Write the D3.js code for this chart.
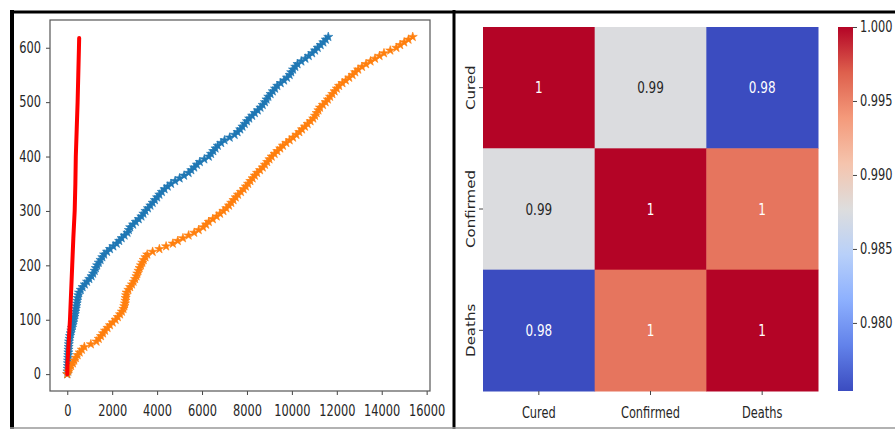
<!DOCTYPE html>
<html>
<head>
<meta charset="utf-8">
<script src="https://cdn.jsdelivr.net/npm/d3@7"></script>
<style>
  body { margin: 0; background: #fff; }
  text { font-family: 'DejaVu Sans', sans-serif; fill: #262626; }
</style>
</head>
<body>
<div id="chart"></div>
<script>
let width = 895, height = 429

// row index (y) and the cumulative counts
let rowIndex = [0, 5, 10, 15, 20, 25, 30, 35, 40, 45, 50, 55, 60, 65, 70, 75, 80, 85, 90, 95,
  100, 105, 110, 115, 120, 125, 130, 135, 140, 145, 150, 155, 160, 165, 170, 175, 180, 185, 190, 195,
  200, 205, 210, 215, 220, 225, 230, 235, 240, 245, 250, 255, 260, 265, 270, 275, 280, 285, 290, 295,
  300, 305, 310, 315, 320, 325, 330, 335, 340, 345, 350, 355, 360, 365, 370, 375, 380, 385, 390, 395,
  400, 405, 410, 415, 420, 425, 430, 435, 440, 445, 450, 455, 460, 465, 470, 475, 480, 485, 490, 495,
  500, 505, 510, 515, 520, 525, 530, 535, 540, 545, 550, 555, 560, 565, 570, 575, 580, 585, 590, 595,
  600, 605, 610, 615, 620]

let curedX = [0, 10, 20, 25, 30, 35, 40, 45, 50, 55, 60, 70, 80, 100, 120, 150, 180, 210, 240, 265,
  290, 315, 340, 360, 380, 400, 420, 440, 460, 490, 520, 600, 680, 780, 880, 980, 1080, 1150, 1220, 1270,
  1330, 1400, 1480, 1560, 1640, 1770, 1900, 2050, 2200, 2310, 2420, 2550, 2680, 2740, 2800, 2930, 3050, 3180, 3300, 3390,
  3480, 3590, 3700, 3800, 3900, 4000, 4100, 4210, 4330, 4470, 4620, 4800, 5000, 5200, 5400, 5520, 5650, 5770, 5900, 6100,
  6300, 6400, 6500, 6600, 6700, 6850, 7000, 7230, 7450, 7580, 7700, 7800, 7900, 8000, 8100, 8230, 8350, 8480, 8600, 8700,
  8800, 8870, 8950, 9050, 9150, 9250, 9350, 9500, 9650, 9780, 9900, 9970, 10050, 10150, 10250, 10420, 10600, 10750, 10900, 11030,
  11150, 11280, 11400, 11510, 11620]

let confirmedX = [0, 50, 100, 170, 250, 310, 380, 460, 550, 650, 760, 1050, 1300, 1400, 1500, 1590, 1680, 1790, 1900, 2020,
  2150, 2250, 2350, 2430, 2500, 2540, 2570, 2590, 2600, 2620, 2640, 2720, 2800, 2880, 2950, 3020, 3080, 3120, 3170, 3220,
  3280, 3340, 3400, 3480, 3560, 3800, 4100, 4400, 4700, 4920, 5150, 5400, 5650, 5850, 6050, 6180, 6300, 6480, 6650, 6800,
  6950, 7080, 7200, 7300, 7400, 7500, 7600, 7730, 7850, 7950, 8050, 8150, 8250, 8350, 8450, 8580, 8700, 8800, 8900, 9000,
  9100, 9230, 9350, 9480, 9600, 9750, 9900, 10050, 10200, 10330, 10450, 10580, 10700, 10830, 10950, 11030, 11100, 11180, 11250, 11380,
  11500, 11600, 11700, 11800, 11900, 12000, 12100, 12250, 12400, 12550, 12700, 12820, 12950, 13120, 13300, 13500, 13700, 13900, 14100, 14380,
  14650, 14820, 15000, 15190, 15380]

let deathsRow = [0, 20, 50, 100, 150, 200, 250, 300, 350, 400, 450, 500, 550, 600, 618]
let deathsX = [0, 10, 50, 120, 170, 220, 270, 330, 360, 380, 420, 460, 490, 520, 530]

let xTicks = [0, 2000, 4000, 6000, 8000, 10000, 12000, 14000, 16000]
let yTicks = [0, 100, 200, 300, 400, 500, 600]

// correlation matrix for the heatmap
let labels = ['Cured', 'Confirmed', 'Deaths']
let corr = [
  [1.0, 0.9875, 0.9754],
  [0.9875, 1.0, 0.9958],
  [0.9754, 0.9958, 1.0]
]
let barTicks = [0.980, 0.985, 0.990, 0.995, 1.000]

// matplotlib coolwarm stops
let coolwarmStops = ['#3b4cc0', '#6282ea', '#8db0fe', '#b8d0f9', '#dddddd', '#f5c4ad', '#f49a7b', '#de604d', '#b40426']

let squash = 0.76

let svg = d3.select('#chart').append('svg')
  .attr('width', width)
  .attr('height', height)

// frames
svg.append('line').attr('x1', 10).attr('x2', width).attr('y1', 12).attr('y2', 12)
  .attr('stroke', '#000').attr('stroke-width', 3)
svg.append('line').attr('x1', 12).attr('x2', 12).attr('y1', 10).attr('y2', height)
  .attr('stroke', '#000').attr('stroke-width', 4)
svg.append('line').attr('x1', 454).attr('x2', 454).attr('y1', 10).attr('y2', height)
  .attr('stroke', '#000').attr('stroke-width', 3)
svg.append('line').attr('x1', 10).attr('x2', width).attr('y1', 428).attr('y2', 428)
  .attr('stroke', '#999').attr('stroke-width', 1.5)

function squashText(sel) {
  sel.each(function() {
    let t = d3.select(this)
    let x = +t.attr('x') || 0
    t.attr('x', x / squash).attr('transform', `scale(${squash},1)`)
  })
}

// ---------- left plot ----------
let plotLeft = 50, plotRight = 430, plotTop = 20, plotBottom = 391

function withMargin(ext) {
  let span = ext[1] - ext[0]
  return [ext[0] - 0.05 * span, ext[1] + 0.05 * span]
}

let x = d3.scaleLinear()
  .domain(withMargin(d3.extent(curedX.concat(confirmedX, deathsX))))
  .range([plotLeft, plotRight])
let y = d3.scaleLinear()
  .domain(withMargin(d3.extent(rowIndex.concat(deathsRow))))
  .range([plotBottom, plotTop])

let xAxis = svg.append('g')
  .attr('transform', `translate(0,${plotBottom})`)
  .call(d3.axisBottom(x).tickValues(xTicks).tickSize(4).tickPadding(10).tickFormat(d3.format('d')))
let yAxis = svg.append('g')
  .attr('transform', `translate(${plotLeft},0)`)
  .call(d3.axisLeft(y).tickValues(yTicks).tickSize(4).tickPadding(5))

;[xAxis, yAxis].forEach(a => {
  a.select('.domain').remove()
  a.attr('font-size', 15).attr('font-family', 'DejaVu Sans')
  a.selectAll('line').attr('stroke', '#444')
  a.selectAll('text').attr('fill', '#262626').call(squashText)
})

svg.append('rect')
  .attr('x', plotLeft).attr('y', plotTop)
  .attr('width', plotRight - plotLeft).attr('height', plotBottom - plotTop)
  .attr('fill', 'none').attr('stroke', '#555').attr('stroke-width', 1.2)

let star = d3.symbol(d3.symbolStar, 26)

function drawStars(xs, color) {
  svg.append('g').selectAll('path')
    .data(xs.map((v, i) => [v, rowIndex[i]]))
    .join('path')
    .attr('d', star)
    .attr('transform', d => `translate(${x(d[0])},${y(d[1])})`)
    .attr('fill', color)
    .attr('stroke', color)
    .attr('stroke-width', 0.6)
}

drawStars(curedX, '#1f77b4')
drawStars(confirmedX, '#ff7f0e')

svg.append('path')
  .datum(deathsX.map((v, i) => [v, deathsRow[i]]))
  .attr('d', d3.line().x(d => x(d[0])).y(d => y(d[1])))
  .attr('fill', 'none')
  .attr('stroke', 'red')
  .attr('stroke-width', 4)
  .attr('stroke-linejoin', 'round')
  .attr('stroke-linecap', 'round')

// ---------- heatmap ----------
let hmLeft = 483, hmRight = 818, hmTop = 27, hmBottom = 391
let flat = corr.flat()
let vmin = d3.min(flat), vmax = d3.max(flat)

let color = d3.scaleLinear()
  .domain(coolwarmStops.map((c, i) => vmin + (vmax - vmin) * i / (coolwarmStops.length - 1)))
  .range(coolwarmStops)
  .interpolate(d3.interpolateRgb)

let hx = d3.scaleBand().domain(labels).range([hmLeft, hmRight])
let hy = d3.scaleBand().domain(labels).range([hmTop, hmBottom])

let cells = []
corr.forEach((row, i) => row.forEach((v, j) => cells.push({ r: labels[i], c: labels[j], v: v })))

svg.append('g').selectAll('rect')
  .data(cells)
  .join('rect')
  .attr('x', d => hx(d.c))
  .attr('y', d => hy(d.r))
  .attr('width', hx.bandwidth() + 0.5)
  .attr('height', hy.bandwidth() + 0.5)
  .attr('fill', d => color(d.v))

function textColor(c) {
  let rgb = d3.rgb(c)
  let lin = [rgb.r, rgb.g, rgb.b].map(v => {
    v /= 255
    return v <= 0.03928 ? v / 12.92 : Math.pow((v + 0.055) / 1.055, 2.4)
  })
  let lum = 0.2126 * lin[0] + 0.7152 * lin[1] + 0.0722 * lin[2]
  return lum > 0.408 ? '#262626' : '#ffffff'
}

let fmt = d3.format('.2~g')
svg.append('g').selectAll('text')
  .data(cells)
  .join('text')
  .attr('transform', d => `translate(${hx(d.c) + hx.bandwidth() / 2},${hy(d.r) + hy.bandwidth() / 2}) scale(0.75,1)`)
  .attr('text-anchor', 'middle')
  .attr('dy', '0.36em')
  .attr('font-size', 16)
  .style('fill', d => textColor(color(d.v)))
  .text(d => fmt(d.v))

// heatmap tick marks and labels
svg.append('g').selectAll('line')
  .data(labels)
  .join('line')
  .attr('x1', d => hx(d) + hx.bandwidth() / 2).attr('x2', d => hx(d) + hx.bandwidth() / 2)
  .attr('y1', hmBottom).attr('y2', hmBottom + 4)
  .attr('stroke', '#444')
svg.append('g').selectAll('text')
  .data(labels)
  .join('text')
  .attr('transform', d => `translate(${hx(d) + hx.bandwidth() / 2},418) scale(${squash},1)`)
  .attr('text-anchor', 'middle')
  .attr('font-size', 15)
  .text(d => d)

svg.append('g').selectAll('line')
  .data(labels)
  .join('line')
  .attr('x1', hmLeft - 4).attr('x2', hmLeft)
  .attr('y1', d => hy(d) + hy.bandwidth() / 2).attr('y2', d => hy(d) + hy.bandwidth() / 2)
  .attr('stroke', '#444')
svg.append('g').selectAll('text')
  .data(labels)
  .join('text')
  .attr('transform', d => `translate(475,${hy(d) + hy.bandwidth() / 2}) rotate(-90) scale(1,${squash})`)
  .attr('text-anchor', 'middle')
  .attr('font-size', 15)
  .text(d => d)

// colorbar
let barLeft = 838, barWidth = 15
let cb = d3.scaleLinear().domain([vmin, vmax]).range([hmBottom, hmTop])

let grad = svg.append('defs').append('linearGradient')
  .attr('id', 'cbGrad')
  .attr('x1', 0).attr('y1', 1).attr('x2', 0).attr('y2', 0)
grad.selectAll('stop')
  .data(coolwarmStops)
  .join('stop')
  .attr('offset', (d, i) => i / (coolwarmStops.length - 1))
  .attr('stop-color', d => d)

svg.append('rect')
  .attr('x', barLeft).attr('y', hmTop)
  .attr('width', barWidth).attr('height', hmBottom - hmTop)
  .attr('fill', 'url(#cbGrad)')

let cbAxis = svg.append('g')
  .attr('transform', `translate(${barLeft + barWidth},0)`)
  .call(d3.axisRight(cb).tickValues(barTicks).tickSize(4).tickPadding(3).tickFormat(d3.format('.3f')))
cbAxis.select('.domain').remove()
cbAxis.attr('font-size', 15).attr('font-family', 'DejaVu Sans')
cbAxis.selectAll('line').attr('stroke', '#444')
cbAxis.selectAll('text').attr('fill', '#262626').call(squashText)
</script>
</body>
</html>
